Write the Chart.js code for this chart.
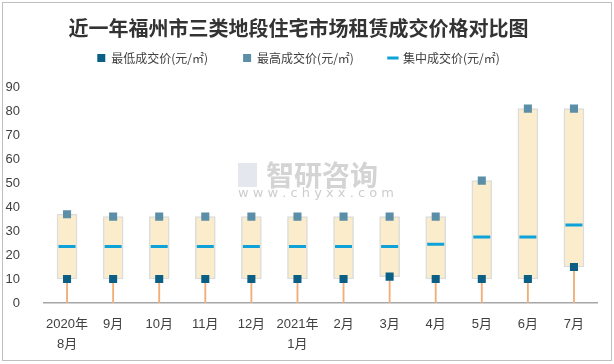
<!DOCTYPE html>
<html>
<head>
<meta charset="utf-8">
<script src="https://cdn.jsdelivr.net/npm/chart.js@4/dist/chart.umd.min.js"></script>
<style>
  html, body { margin: 0; padding: 0; background: #fff; }
  #wrap { width: 614px; height: 364px; position: relative; }
</style>
</head>
<body>
<div id="wrap"><canvas id="chart" width="614" height="364"></canvas></div>
<script>
// chart data
const categories = [['2020年', '8月'], '9月', '10月', '11月', '12月', ['2021年', '1月'], '2月', '3月', '4月', '5月', '6月', '7月'];
const minPrices = [10, 10, 10, 10, 10, 10, 10, 11, 10, 10, 10, 15];
const maxPrices = [37, 36, 36, 36, 36, 36, 36, 36, 36, 51, 81, 81];
const midPrices = [23.5, 23.5, 23.5, 23.5, 23.5, 23.5, 23.5, 23.5, 24.5, 27.5, 27.5, 32.5];
const yTicks = [0, 10, 20, 30, 40, 50, 60, 70, 80, 90];

const cnFont = '"Liberation Sans", "Noto Sans CJK SC", sans-serif';

// outer frame + watermark
const decor = {
  id: 'decor',
  beforeDraw(chart) {
    const ctx = chart.ctx;
    ctx.save();
    ctx.fillStyle = '#fff';
    ctx.fillRect(0, 0, chart.width, chart.height);
    ctx.strokeStyle = '#bfbfbf';
    ctx.lineWidth = 1;
    ctx.strokeRect(2.5, 2.5, 609, 358);
    // watermark
    ctx.fillStyle = '#e4e8ee';
    ctx.fillRect(238, 163, 19, 24);
    ctx.fillStyle = '#d4d4d4';
    ctx.font = 'bold 28px "Noto Sans CJK SC"';
    ctx.textBaseline = 'middle';
    ctx.fillText('智研咨询', 266, 175);
    ctx.font = '13px "DejaVu Sans"';
    ctx.fillStyle = '#cdcdcd';
    ctx.fillText('w w w . c h y x x . c o m', 238, 194);
    ctx.restore();
  }
};

new Chart(document.getElementById('chart'), {
  type: 'bar',
  data: {
    labels: categories,
    datasets: [{
      type: 'line',
      label: '最低成交价(元/㎡)',
      data: minPrices,
      showLine: false,
      pointStyle: 'rect',
      pointRadius: 5.7,
      pointHoverRadius: 5.7,
      backgroundColor: '#0b5f85',
      borderColor: '#0b5f85',
      borderWidth: 0,
      order: 1
    }, {
      type: 'line',
      label: '最高成交价(元/㎡)',
      data: maxPrices,
      showLine: false,
      pointStyle: 'rect',
      pointRadius: 5.7,
      pointHoverRadius: 5.7,
      backgroundColor: '#5b8ea7',
      borderColor: '#5b8ea7',
      borderWidth: 0,
      order: 1
    }, {
      type: 'line',
      label: '集中成交价(元/㎡)',
      data: midPrices,
      showLine: false,
      pointStyle: 'line',
      pointRadius: 8.5,
      pointHoverRadius: 8.5,
      borderColor: '#0ea2d9',
      backgroundColor: '#0ea2d9',
      pointBorderWidth: 3,
      borderWidth: 3,
      order: 1
    }, {
      label: 'range',
      data: minPrices.map((v, i) => [v, maxPrices[i]]),
      backgroundColor: '#fbedcc',
      borderColor: '#dcdcdc',
      borderWidth: 1.5,
      borderSkipped: false,
      barThickness: 20,
      grouped: false,
      order: 2
    }, {
      label: 'stem',
      data: minPrices.map(v => [0, v]),
      backgroundColor: '#f2ae77',
      barThickness: 1.2,
      grouped: false,
      order: 3
    }]
  },
  options: {
    responsive: false,
    animation: false,
    layout: { padding: { left: 0, right: 17, bottom: 0 } },
    plugins: {
      title: {
        display: true,
        text: '近一年福州市三类地段住宅市场租赁成交价格对比图',
        color: '#333333',
        font: { family: '"Noto Sans CJK SC"', size: 20, weight: 'bold', lineHeight: 1.2 },
        padding: { top: 16, bottom: -23 }
      },
      legend: {
        display: true,
        labels: {
          filter: item => item.datasetIndex < 3,
          usePointStyle: true,
          boxWidth: 8,
          boxHeight: 8,
          color: '#404040',
          padding: 35,
          font: { family: '"Noto Sans CJK SC"', size: 12 }
        }
      },
      tooltip: { enabled: false }
    },
    scales: {
      x: {
        grid: { display: false },
        border: { display: true, color: '#a6a6a6', width: 1.5 },
        ticks: {
          color: '#404040',
          font: { family: cnFont, size: 13, lineHeight: 1.54 },
          maxRotation: 0,
          autoSkip: false,
          padding: 3
        },
        afterFit: s => { s.height = 61; }
      },
      // spacer between legend and plot
      gap: {
        type: 'category',
        position: 'top',
        grid: { display: false },
        border: { display: false },
        ticks: { display: false },
        afterFit: s => { s.height = 13; }
      },
      y: {
        min: 0,
        max: 90,
        afterBuildTicks: scale => { scale.ticks = yTicks.map(v => ({ value: v })); },
        grid: { display: false },
        border: { display: false },
        ticks: {
          color: '#404040',
          font: { family: cnFont, size: 13 },
          padding: 16
        },
        afterFit: s => { s.width = 44; }
      }
    }
  },
  plugins: [decor]
});
</script>
</body>
</html>
